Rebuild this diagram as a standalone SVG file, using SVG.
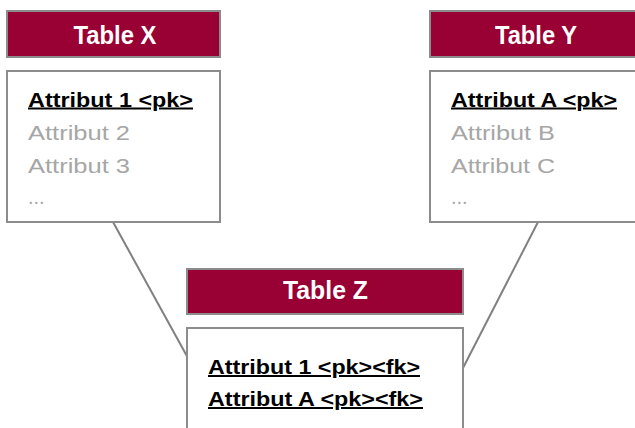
<svg xmlns="http://www.w3.org/2000/svg" width="635" height="428" viewBox="0 0 635 428">
  <style>
    .hdr { fill: #990033; stroke: #8c8c8c; stroke-width: 2; }
    .body { fill: #ffffff; stroke: #8c8c8c; stroke-width: 2; }
    .title { font-family: "Liberation Sans", Arial, sans-serif; font-weight: bold; font-size: 25px; fill: #ffffff; text-anchor: middle; }
    .key { font-family: "Liberation Sans", Arial, sans-serif; font-weight: bold; font-size: 20px; fill: #000000; text-decoration: underline; }
    .attr { font-family: "Liberation Sans", Arial, sans-serif; font-size: 20px; fill: #a6a6a6; }
    .link { stroke: #808080; stroke-width: 2; fill: none; }
  </style>

  <!-- relationship lines -->
  <g id="connectors">
    <line class="link" x1="113" y1="222" x2="188" y2="358"/>
    <line class="link" x1="538" y1="222" x2="463" y2="368"/>
  </g>

  <g id="table-x">
    <rect class="hdr" x="7" y="11" width="213" height="46"/>
    <text class="title" x="115" y="43.5" textLength="83" lengthAdjust="spacingAndGlyphs">Table X</text>
    <rect class="body" x="7" y="71" width="213" height="151"/>
    <text class="key" x="28" y="106.5" textLength="165" lengthAdjust="spacingAndGlyphs">Attribut 1 &lt;pk&gt;</text>
    <text class="attr" x="28" y="140" textLength="102" lengthAdjust="spacingAndGlyphs">Attribut 2</text>
    <text class="attr" x="28" y="173" textLength="102" lengthAdjust="spacingAndGlyphs">Attribut 3</text>
    <text class="attr" x="28" y="204">...</text>
  </g>

  <g id="table-y">
    <rect class="hdr" x="430" y="11" width="212" height="46"/>
    <text class="title" x="536" y="43.5" textLength="82" lengthAdjust="spacingAndGlyphs">Table Y</text>
    <rect class="body" x="430" y="71" width="212" height="151"/>
    <text class="key" x="451" y="106.5" textLength="166" lengthAdjust="spacingAndGlyphs">Attribut A &lt;pk&gt;</text>
    <text class="attr" x="451" y="140" textLength="104" lengthAdjust="spacingAndGlyphs">Attribut B</text>
    <text class="attr" x="451" y="173" textLength="104" lengthAdjust="spacingAndGlyphs">Attribut C</text>
    <text class="attr" x="451" y="204">...</text>
  </g>

  <g id="table-z">
    <rect class="hdr" x="187" y="269" width="276" height="45"/>
    <text class="title" x="325.5" y="299" textLength="85" lengthAdjust="spacingAndGlyphs">Table Z</text>
    <rect class="body" x="187" y="328" width="276" height="110"/>
    <text class="key" x="208" y="374" textLength="212" lengthAdjust="spacingAndGlyphs">Attribut 1 &lt;pk&gt;&lt;fk&gt;</text>
    <text class="key" x="208" y="406" textLength="215" lengthAdjust="spacingAndGlyphs">Attribut A &lt;pk&gt;&lt;fk&gt;</text>
  </g>
</svg>
